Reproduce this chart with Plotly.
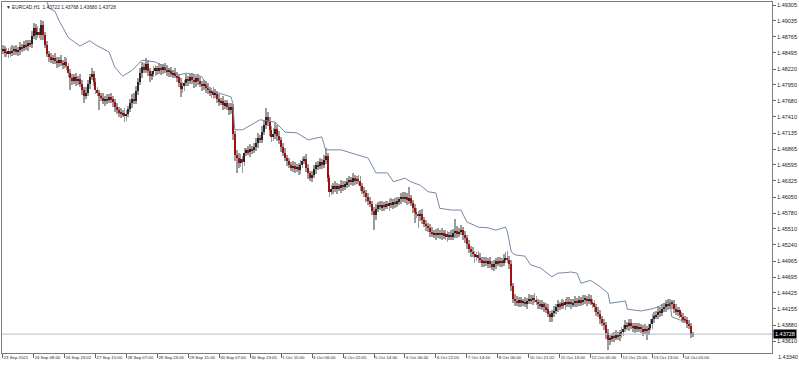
import plotly.graph_objects as go

# ---------------- data ----------------
symbol_title = "▼ EURCAD,H1  1.43722 1.43768 1.43680 1.43728"

first_open = 1.4853

closes = [
    1.4856, 1.4850, 1.4848, 1.4852, 1.4849, 1.4853, 1.4856, 1.4851, 1.4854, 1.4859,
    1.4857, 1.4863, 1.4861, 1.4866, 1.4864, 1.4878, 1.4892, 1.4880, 1.4885, 1.4879,
    1.4896, 1.4880, 1.4862, 1.4848, 1.4842, 1.4838, 1.4841, 1.4836, 1.4832, 1.4838,
    1.4833, 1.4829, 1.4834, 1.4828, 1.4815, 1.4806, 1.4802, 1.4808, 1.4801, 1.4805,
    1.4797, 1.4786, 1.4777, 1.4782, 1.4796, 1.4808, 1.4814, 1.4800, 1.4787, 1.4781,
    1.4776, 1.4773, 1.4768, 1.4772, 1.4769, 1.4774, 1.4771, 1.4766, 1.4758, 1.4752,
    1.4749, 1.4745, 1.4748, 1.4742, 1.4746, 1.4755, 1.4764, 1.4772, 1.4768, 1.4785,
    1.4800, 1.4815, 1.4826, 1.4821, 1.4830, 1.4818, 1.4810, 1.4814, 1.4819, 1.4823,
    1.4818, 1.4824, 1.4820, 1.4826, 1.4821, 1.4817, 1.4819, 1.4813, 1.4816, 1.4811,
    1.4808, 1.4798, 1.4789, 1.4793, 1.4799, 1.4805, 1.4802, 1.4808, 1.4804, 1.4800,
    1.4806, 1.4801, 1.4797, 1.4793, 1.4797, 1.4790, 1.4786, 1.4781, 1.4785, 1.4778,
    1.4780, 1.4772, 1.4766, 1.4768, 1.4761, 1.4764, 1.4758, 1.4752, 1.4757, 1.4712,
    1.4676, 1.4672, 1.4662, 1.4669, 1.4665, 1.4680, 1.4684, 1.4681, 1.4687, 1.4684,
    1.4690, 1.4697, 1.4705, 1.4702, 1.4716, 1.4728, 1.4740, 1.4733, 1.4718, 1.4706,
    1.4712, 1.4721, 1.4709, 1.4702, 1.4690, 1.4680, 1.4671, 1.4666, 1.4660, 1.4655,
    1.4658, 1.4652, 1.4656, 1.4651, 1.4660, 1.4667, 1.4670, 1.4655, 1.4645, 1.4638,
    1.4642, 1.4652, 1.4660, 1.4657, 1.4664, 1.4660, 1.4668, 1.4674, 1.4638, 1.4614,
    1.4619, 1.4624, 1.4618, 1.4623, 1.4620, 1.4626, 1.4622, 1.4627, 1.4630, 1.4634,
    1.4631, 1.4637, 1.4633, 1.4636, 1.4632, 1.4624, 1.4616, 1.4612, 1.4605, 1.4598,
    1.4594, 1.4582, 1.4574, 1.4585, 1.4592, 1.4588, 1.4591, 1.4589, 1.4593, 1.4590,
    1.4595, 1.4592, 1.4597, 1.4594, 1.4598, 1.4601, 1.4605, 1.4602, 1.4606, 1.4600,
    1.4603, 1.4595, 1.4586, 1.4580, 1.4577, 1.4573, 1.4576, 1.4566, 1.4560, 1.4556,
    1.4553, 1.4546, 1.4542, 1.4545, 1.4540, 1.4544, 1.4541, 1.4545, 1.4539, 1.4542,
    1.4537, 1.4541, 1.4538, 1.4544, 1.4548, 1.4543, 1.4546, 1.4549, 1.4541, 1.4536,
    1.4525, 1.4517, 1.4512, 1.4508, 1.4503, 1.4507, 1.4502, 1.4498, 1.4494, 1.4497,
    1.4493, 1.4496, 1.4491, 1.4487, 1.4492, 1.4496, 1.4493, 1.4497, 1.4494, 1.4499,
    1.4502, 1.4498, 1.4492, 1.4455, 1.4433, 1.4429, 1.4425, 1.4430, 1.4426, 1.4428,
    1.4424, 1.4429, 1.4433, 1.4430, 1.4434, 1.4431, 1.4428, 1.4424, 1.4420, 1.4423,
    1.4418, 1.4415, 1.4407, 1.4402, 1.4408, 1.4412, 1.4419, 1.4423, 1.4420, 1.4425,
    1.4422, 1.4427, 1.4424, 1.4428, 1.4423, 1.4426, 1.4429, 1.4426, 1.4430, 1.4427,
    1.4431, 1.4433, 1.4429, 1.4432, 1.4428, 1.4425, 1.4418, 1.4411, 1.4407, 1.4398,
    1.4392, 1.4388, 1.4374, 1.4362, 1.4366, 1.4369, 1.4367, 1.4372, 1.4369, 1.4374,
    1.4377, 1.4382, 1.4389, 1.4386, 1.4391, 1.4387, 1.4383, 1.4386, 1.4382, 1.4385,
    1.4381, 1.4378, 1.4382, 1.4379, 1.4384, 1.4390, 1.4398, 1.4403, 1.4406, 1.4411,
    1.4409, 1.4415, 1.4419, 1.4423, 1.4421, 1.4426, 1.4424, 1.4415, 1.4411, 1.4413,
    1.4405, 1.4401, 1.4398, 1.4396, 1.4390, 1.4386, 1.43722, 1.43728,
]

upper_wick_pips = [
    6, 5, 8, 5, 7, 9, 5, 6, 5, 8,
    5, 7, 8, 5, 6, 9, 8, 6, 10, 7,
    9, 7, 5, 8, 5, 7, 5, 8, 6, 5,
    7, 5, 8, 6, 5, 7, 8, 5, 7, 5,
    8, 6, 5, 9, 8, 6, 10, 5, 7, 5,
    6, 5, 8, 5, 7, 5, 8, 6, 5, 7,
    5, 7, 5, 8, 6, 5, 8, 7, 9, 8,
    6, 9, 8, 6, 11, 8, 6, 5, 8, 6,
    5, 8, 6, 5, 7, 8, 5, 6, 5, 8,
    6, 5, 8, 7, 5, 8, 6, 5, 7, 8,
    5, 7, 8, 5, 6, 5, 8, 6, 5, 7,
    8, 5, 7, 5, 8, 6, 5, 7, 8, 6,
    5, 8, 7, 9, 6, 8, 5, 7, 8, 5,
    7, 8, 9, 6, 10, 8, 16, 9, 7, 8,
    10, 9, 6, 8, 5, 7, 8, 5, 6, 5,
    8, 6, 5, 7, 8, 6, 5, 8, 6, 5,
    7, 8, 5, 6, 8, 5, 9, 14, 6, 5,
    6, 5, 8, 6, 5, 8, 6, 5, 8, 6,
    5, 8, 6, 5, 7, 8, 5, 6, 5, 7,
    8, 5, 6, 8, 5, 7, 8, 5, 6, 5,
    7, 8, 5, 6, 8, 5, 7, 9, 8, 6,
    19, 6, 5, 8, 6, 5, 7, 8, 5, 6,
    5, 7, 8, 5, 6, 8, 5, 7, 5, 8,
    6, 5, 8, 7, 20, 8, 6, 9, 5, 7,
    5, 7, 5, 8, 6, 5, 7, 8, 5, 6,
    7, 5, 8, 5, 6, 5, 8, 6, 5, 9,
    10, 12, 8, 6, 5, 7, 8, 5, 6, 5,
    7, 5, 8, 6, 5, 8, 7, 5, 6, 8,
    5, 7, 8, 5, 6, 8, 5, 7, 5, 8,
    6, 5, 8, 7, 5, 6, 8, 5, 7, 5,
    8, 6, 5, 8, 7, 5, 6, 5, 8, 6,
    5, 7, 5, 8, 6, 5, 8, 7, 5, 6,
    8, 6, 8, 5, 7, 8, 5, 6, 5, 7,
    5, 7, 8, 5, 6, 8, 9, 8, 6, 9,
    8, 9, 6, 8, 9, 6, 5, 7, 8, 5,
    6, 5, 8, 6, 5, 7, 5, 4,
]

lower_wick_pips = [
    5, 7, 5, 8, 6, 5, 8, 5, 7, 8,
    6, 5, 7, 8, 5, 6, 5, 8, 6, 5,
    7, 8, 5, 6, 8, 5, 7, 5, 8, 6,
    5, 7, 5, 8, 6, 20, 7, 5, 8, 6,
    5, 8, 13, 6, 5, 8, 5, 7, 8, 5,
    24, 6, 5, 8, 7, 5, 6, 8, 9, 6,
    8, 6, 5, 9, 8, 6, 5, 8, 6, 5,
    7, 5, 8, 6, 5, 8, 10, 6, 5, 8,
    6, 5, 8, 7, 5, 6, 8, 5, 7, 5,
    8, 6, 14, 7, 8, 5, 9, 6, 8, 10,
    8, 6, 5, 8, 7, 9, 6, 5, 8, 6,
    5, 8, 6, 5, 8, 7, 5, 8, 6, 10,
    9, 26, 8, 6, 19, 8, 6, 5, 8, 6,
    5, 7, 8, 5, 6, 5, 8, 7, 9, 8,
    6, 8, 9, 7, 8, 6, 5, 8, 6, 5,
    8, 6, 5, 8, 7, 5, 6, 8, 9, 6,
    7, 5, 8, 6, 5, 8, 5, 7, 8, 9,
    6, 8, 5, 7, 5, 8, 6, 5, 7, 8,
    5, 7, 8, 5, 6, 8, 5, 7, 8, 6,
    5, 7, 25, 8, 6, 5, 7, 8, 5, 6,
    8, 5, 7, 8, 5, 6, 8, 5, 7, 8,
    6, 5, 8, 19, 7, 21, 8, 6, 5, 8,
    7, 8, 5, 6, 8, 5, 7, 8, 5, 6,
    8, 5, 6, 5, 8, 7, 5, 6, 8, 9,
    8, 6, 9, 5, 10, 6, 8, 5, 7, 8,
    5, 8, 6, 5, 7, 8, 5, 6, 8, 5,
    6, 5, 8, 9, 7, 8, 5, 7, 8, 5,
    6, 8, 5, 7, 8, 5, 6, 8, 5, 7,
    8, 6, 5, 9, 8, 6, 5, 8, 7, 5,
    7, 8, 5, 6, 8, 5, 7, 8, 5, 6,
    5, 7, 8, 5, 6, 8, 7, 8, 6, 8,
    6, 8, 9, 16, 8, 7, 8, 5, 6, 8,
    7, 8, 5, 6, 8, 5, 7, 8, 6, 5,
    6, 8, 5, 16, 7, 5, 8, 6, 5, 7,
    8, 6, 5, 8, 7, 5, 8, 6, 5, 7,
    5, 8, 6, 5, 7, 5, 6, 4,
]

# moving-average style line (vertices: bar number, price)
ma_bars = [22, 23, 24, 27, 29, 31, 34, 40, 45, 48, 55, 58, 62, 67, 72, 79, 82, 91, 95,
           100, 103, 107, 118, 119, 120, 124, 133, 141, 146, 152, 158, 165, 167, 175,
           180, 189, 193, 199, 202, 208, 211, 216, 220, 224, 226, 232, 237, 240, 246,
           251, 255, 260, 261, 263, 265, 270, 273, 278, 284, 287, 294, 297, 299, 304,
           309, 313, 314, 322, 323, 330, 335, 339, 342, 345, 346, 350, 353]
ma_values = [1.4939, 1.4935, 1.4925, 1.4920, 1.4905, 1.4893, 1.4875, 1.4861, 1.4870,
             1.4863, 1.4851, 1.4825, 1.4810, 1.4820, 1.4837, 1.4834, 1.4829, 1.4812,
             1.4815, 1.4812, 1.4809, 1.4786, 1.4775, 1.4764, 1.4719, 1.4719, 1.4736,
             1.4732, 1.4715, 1.4714, 1.4702, 1.4707, 1.4685, 1.4685, 1.4680, 1.4671,
             1.4646, 1.4646, 1.4631, 1.4637, 1.4631, 1.4625, 1.4614, 1.4612, 1.4586,
             1.4583, 1.4583, 1.4563, 1.4554, 1.4553, 1.4549, 1.4554, 1.4546, 1.4512,
             1.4507, 1.4505, 1.4490, 1.4485, 1.4470, 1.4476, 1.4478, 1.4476, 1.4459,
             1.4464, 1.4453, 1.4442, 1.4425, 1.4429, 1.4415, 1.4412, 1.4415, 1.4419,
             1.4425, 1.4427, 1.4402, 1.4397, 1.4395]

price_ticks = [1.49305, 1.49035, 1.48765, 1.48495, 1.48220, 1.47950, 1.47680, 1.47410,
               1.47135, 1.46865, 1.46595, 1.46325, 1.46050, 1.45780, 1.45510, 1.45240,
               1.44965, 1.44695, 1.44425, 1.44155, 1.43880, 1.43610, 1.43340]

time_labels = ["23 Sep 2021", "24 Sep 08:00", "26 Sep 23:02", "27 Sep 15:00",
               "28 Sep 07:00", "28 Sep 23:05", "29 Sep 15:00", "30 Sep 07:00",
               "30 Sep 23:05", "1 Oct 15:00", "4 Oct 06:00", "4 Oct 22:05",
               "5 Oct 14:00", "6 Oct 06:00", "6 Oct 22:05", "7 Oct 14:00",
               "8 Oct 06:00", "10 Oct 21:02", "11 Oct 13:00", "12 Oct 05:00",
               "12 Oct 21:00", "13 Oct 13:00", "14 Oct 05:00"]
bars_per_label = 16

# ---------------- derived OHLC ----------------
pip = 0.0001
n = len(closes)
idx = list(range(n))
opens = [first_open] + closes[:-1]
highs = [max(o, c) + u * pip for o, c, u in zip(opens, closes, upper_wick_pips)]
lows = [min(o, c) - d * pip for o, c, d in zip(opens, closes, lower_wick_pips)]
body_base = [min(o, c) for o, c in zip(opens, closes)]
body_len = [max(abs(c - o), 0.00003) for o, c in zip(opens, closes)]
body_col = ["#262626" if c >= o else "#a01010" for o, c in zip(opens, closes)]

last_price = closes[-1]
font = "Liberation Sans, Arial, sans-serif"
y_range = [1.43408, 1.49356]

fig = go.Figure()
fig.add_trace(go.Bar(x=idx, y=[h - l for h, l in zip(highs, lows)], base=lows,
                     width=0.45, marker=dict(color="#9c9c9c", line=dict(width=0)),
                     hoverinfo="skip", showlegend=False))
fig.add_trace(go.Bar(x=idx, y=body_len, base=body_base, width=0.58,
                     marker=dict(color=body_col, line=dict(width=0)),
                     hoverinfo="skip", showlegend=False))
fig.add_trace(go.Scatter(x=ma_bars, y=ma_values, mode="lines",
                         line=dict(color="#7689a6", width=1), hoverinfo="skip",
                         showlegend=False))

fig.add_shape(type="line", xref="paper", x0=0, x1=1, yref="y",
              y0=last_price, y1=last_price, line=dict(color="#b3bdcc", width=1))

# lowest price-scale label sits just below the plotting area
span = y_range[1] - y_range[0]
for v in [t for t in price_ticks if t < y_range[0]]:
    fig.add_annotation(xref="paper", yref="paper", x=1, y=(v - y_range[0]) / span,
                       xanchor="left", yanchor="middle", xshift=4,
                       text=f"{v:.5f}", showarrow=False,
                       font=dict(family=font, size=5.5, color="#222"))

fig.add_annotation(xref="paper", yref="y", x=1, y=last_price, xanchor="left",
                   xshift=1, text=f"{last_price:.5f}", showarrow=False,
                   font=dict(family=font, size=5.5, color="white"),
                   bgcolor="black", borderpad=1)
fig.add_annotation(xref="paper", yref="paper", x=0, y=1, xanchor="left", yanchor="top",
                   xshift=2, yshift=-1, text=symbol_title, showarrow=False,
                   font=dict(family=font, size=4.8, color="#222"))

fig.update_layout(
    width=799, height=369,
    margin=dict(l=2, r=27, t=2, b=16),
    paper_bgcolor="white", plot_bgcolor="white",
    barmode="overlay", bargap=0, showlegend=False, hovermode=False,
    xaxis=dict(range=[-0.36, 397.8], showgrid=False, zeroline=False,
               showline=True, linecolor="#7d7d7d", linewidth=1, mirror=True,
               tickmode="array",
               tickvals=[k * bars_per_label for k in range(len(time_labels))],
               ticktext=time_labels, ticks="outside", ticklen=4, tickcolor="#666",
               tickangle=0, ticklabelposition="outside right",
               tickfont=dict(family=font, size=4.3, color="#222")),
    yaxis=dict(range=y_range, side="right", showgrid=False, zeroline=False,
               showline=True, linecolor="#7d7d7d", linewidth=1, mirror=True,
               tickmode="array", tickvals=price_ticks,
               ticktext=[f"{v:.5f}" for v in price_ticks],
               ticks="outside", ticklen=3, tickcolor="#666",
               tickfont=dict(family=font, size=5.5, color="#222")),
)

fig.write_html("out.html")
